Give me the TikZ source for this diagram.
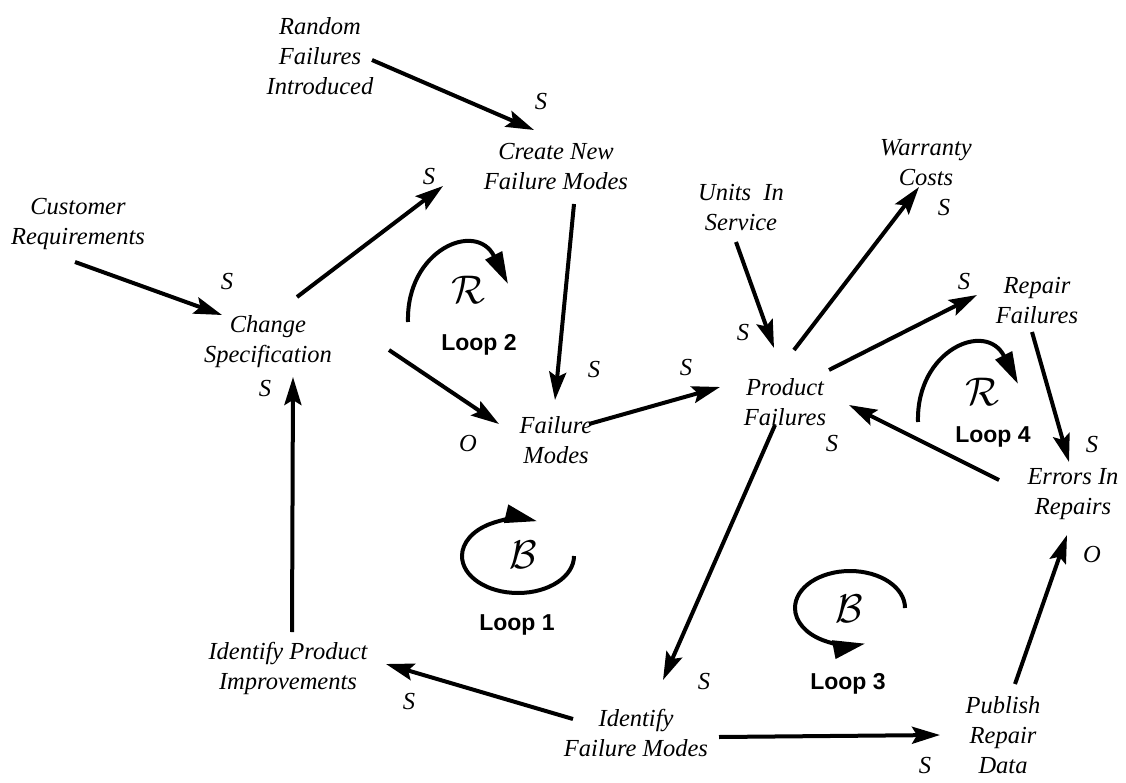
\documentclass[tikz,border=0pt]{standalone}
\usepackage{fontspec}
\setmainfont{Liberation Serif}
\newfontfamily\loopfont{Liberation Sans}
\usetikzlibrary{arrows.meta}
\newcommand{\looplettr}[1]{\scalebox{1.93}{$\mathcal{#1}$}}
\begin{document}
\begin{tikzpicture}[x=1pt,y=-1pt,
  lbl/.style={font=\fontsize{24.5}{30}\selectfont\itshape, align=center, inner sep=0pt},
  pol/.style={font=\fontsize{24.5}{30}\selectfont\itshape, inner sep=0pt},
  arr/.style={line width=4pt, -{Stealth[length=28pt,width=17pt,inset=5pt]}},
  loopname/.style={font=\loopfont\bfseries\fontsize{23}{26}\selectfont, inner sep=0pt},
  looplet/.style={font=\fontsize{20.74}{21}\selectfont, inner sep=0pt},
  looparc/.style={line width=4pt, -{Triangle[length=32pt,width=18pt]}}]
\fill[white] (0,0) rectangle (1126,783);
\useasboundingbox (0,0) rectangle (1126,783);

% variables
\node[lbl] (rand)   at (320,56)   {Random\\Failures\\Introduced};
\node[lbl] (create) at (556,167)  {Create New\\Failure Modes};
\node[lbl] (cust)   at (78,224)   {Customer\\Requirements};
\node[lbl] (change) at (268,342)  {Change\\Specification};
\node[lbl] (fmodes) at (556,440)  {Failure\\Modes};
\node[lbl] (prod)   at (785,402)  {Product\\Failures};
\node[lbl] (units)  at (741,208)  {Units\ \ In\\Service};
\node[lbl] (warr)   at (926,163)  {Warranty\\Costs};
\node[lbl] (repair) at (1037,301) {Repair\\Failures};
\node[lbl] (errors) at (1073,494) {Errors In\\Repairs};
\node[lbl] (ipi)    at (288,668)  {Identify Product\\Improvements};
\node[lbl] (ifm)    at (636,733)  {Identify\\Failure Modes};
\node[lbl] (pub)    at (1003,735) {Publish\\Repair\\Data};

% connectors
\draw[arr] ([shift={(52,4)}]rand.center)     -- ([shift={(-22,-37)}]create.center);
\draw[arr] ([shift={(-3,38)}]cust.center)    -- ([shift={(-46,-27)}]change.center);
\draw[arr] ([shift={(29,-45)}]change.center) -- ([shift={(-113,19)}]create.center);
\draw[arr] ([shift={(18,37)}]create.center)  -- ([shift={(-1,-40)}]fmodes.center);
\draw[arr] ([shift={(121,8)}]change.center)  -- ([shift={(-57,-16)}]fmodes.center);
\draw[arr] ([shift={(33,-16)}]fmodes.center) -- ([shift={(-65,-15)}]prod.center);
\draw[arr] ([shift={(-5,34)}]units.center)   -- ([shift={(-11,-54)}]prod.center);
\draw[arr] ([shift={(9,-52)}]prod.center)    -- ([shift={(-7,24)}]warr.center);
\draw[arr] ([shift={(44,-32)}]prod.center)   -- ([shift={(-60,-6)}]repair.center);
\draw[arr] ([shift={(-5,31)}]repair.center)  -- ([shift={(-4,-32)}]errors.center);
\draw[arr] ([shift={(-74,-14)}]errors.center) -- ([shift={(64,3)}]prod.center);
\draw[arr] ([shift={(-10,23)}]prod.center)   -- ([shift={(27,-53)}]ifm.center);
\draw[arr] ([shift={(-63,-14)}]ifm.center)   -- ([shift={(98,-4)}]ipi.center);
\draw[arr] ([shift={(4,-36)}]ipi.center)     -- ([shift={(25,35)}]change.center);
\draw[arr] ([shift={(83,4)}]ifm.center)      -- ([shift={(-63,0)}]pub.center);
\draw[arr] ([shift={(12,-51)}]pub.center)    -- ([shift={(-6,41)}]errors.center);

% polarities
\node[pol] (p1)  at (541,102)  {S};
\node[pol] (p2)  at (227,282)  {S};
\node[pol] (p3)  at (429,177)  {S};
\node[pol] (p4)  at (265,389)  {S};
\node[pol] (p5)  at (594,370)  {S};
\node[pol] (p6)  at (468,444)  {O};
\node[pol] (p7)  at (686,368)  {S};
\node[pol] (p8)  at (743,333)  {S};
\node[pol] (p9)  at (944,208)  {S};
\node[pol] (p10) at (964,282)  {S};
\node[pol] (p11) at (1092,445) {S};
\node[pol] (p12) at (832,444)  {S};
\node[pol] (p13) at (1092,555) {O};
\node[pol] (p14) at (704,682)  {S};
\node[pol] (p15) at (409,702)  {S};
\node[pol] (p16) at (925,766)  {S};

% loops
\node[looplet] (R2) at (468,290) {\looplettr{R}};
\node[loopname] (L2) at (479,345) {Loop 2};
\draw[looparc] (408,322) .. controls (406,250) and (476,220) .. (508,284);

\node[looplet] (R4) at (982,392) {\looplettr{R}};
\node[loopname] (L4) at (993,437) {Loop 4};
\draw[looparc] (918,422) .. controls (916,350) and (986,320) .. (1018,384);

\node[looplet] (B1) at (523,555) {\looplettr{B}};
\node[loopname] (L1) at (517,625) {Loop 1};
\draw[looparc] (574,556) arc[start angle=0,end angle=-290,x radius=56pt,y radius=37pt];

\node[looplet] (B3) at (849,609) {\looplettr{B}};
\node[loopname] (L3) at (848,684) {Loop 3};
\draw[looparc] (905,608) arc[start angle=0,end angle=286,x radius=55pt,y radius=37pt];
\end{tikzpicture}
\end{document}
